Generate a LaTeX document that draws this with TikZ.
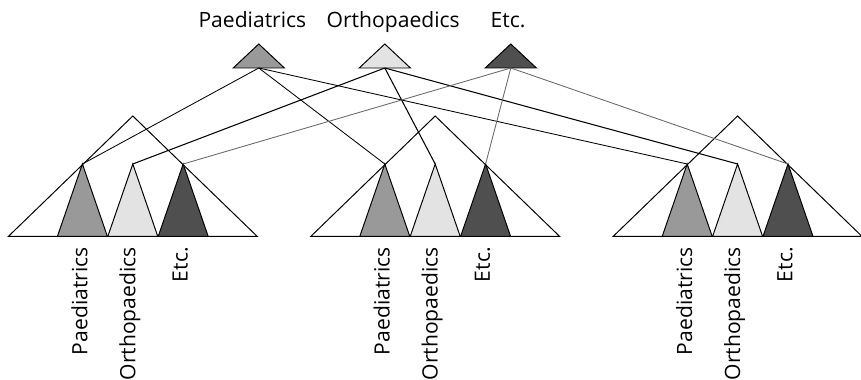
\documentclass[tikz,border=0pt]{standalone}
\usepackage{fontspec}
\setmainfont{Open Sans}
\usetikzlibrary{positioning}

\definecolor{paedfill}{gray}{0.6}
\definecolor{orthofill}{gray}{0.89}
\definecolor{etcfill}{gray}{0.31}
\definecolor{etcdraw}{gray}{0.4}

\begin{document}
\begin{tikzpicture}[
  font=\fontsize{15}{18}\selectfont,
  % Triangle styles
  bigtri/.style={draw, line width=0.7pt, fill=white},
  subtri/.style={draw, line width=0.7pt},
  toptri/.style={draw, line width=0.7pt},
  % Label styles
  toplabel/.style={anchor=base, inner sep=0pt},
  sidelabel/.style={anchor=east, rotate=90, inner sep=0pt},
  % Connector styles
  paedline/.style={draw, line width=0.6pt},
  ortholine/.style={draw, line width=0.75pt},
  etcline/.style={draw, line width=0.6pt, draw=etcdraw}
]
  \useasboundingbox (0,0) rectangle (21.525,9.5);

  % ==========================================
  % TOP: SPECIALTY TRIANGLES
  % ==========================================
  \node[toplabel] (lbl_paed) at (6.31,8.8) {Paediatrics};
  \node[toplabel] (lbl_ortho) at (9.83,8.8) {Orthopaedics};
  \node[toplabel] (lbl_etc) at (12.7,8.8) {Etc.};

  \coordinate (tp) at (6.47,8.4);
  \coordinate (to) at (9.62,8.4);
  \coordinate (te) at (12.77,8.4);
  \coordinate (tp_b) at (6.47,7.8);
  \coordinate (to_b) at (9.62,7.8);
  \coordinate (te_b) at (12.77,7.8);

  \draw[toptri, fill=paedfill] (tp) -- ++(-0.64,-0.6) -- ++(1.28,0) -- cycle;
  \draw[toptri, fill=orthofill] (to) -- ++(-0.64,-0.6) -- ++(1.28,0) -- cycle;
  \draw[toptri, fill=etcfill] (te) -- ++(-0.64,-0.6) -- ++(1.28,0) -- cycle;

  % ==========================================
  % BOTTOM: THREE HIERARCHIES
  % ==========================================
  \coordinate (b1) at (3.32,6.6);
  \coordinate (b2) at (10.88,6.6);
  \coordinate (b3) at (18.44,6.6);

  \coordinate (b1p) at (2.06,5.4);
  \coordinate (b1o) at (3.32,5.4);
  \coordinate (b1e) at (4.58,5.4);
  \coordinate (b2p) at (9.62,5.4);
  \coordinate (b2o) at (10.88,5.4);
  \coordinate (b2e) at (12.14,5.4);
  \coordinate (b3p) at (17.18,5.4);
  \coordinate (b3o) at (18.44,5.4);
  \coordinate (b3e) at (19.70,5.4);

  % Hierarchy 1
  \draw[bigtri] (b1) -- ++(-3.11,-3.01) -- ++(6.22,0) -- cycle;
  \draw[subtri, fill=paedfill] (b1p) -- ++(-0.625,-1.81) -- ++(1.25,0) -- cycle;
  \draw[subtri, fill=orthofill] (b1o) -- ++(-0.625,-1.81) -- ++(1.25,0) -- cycle;
  \draw[subtri, fill=etcfill] (b1e) -- ++(-0.625,-1.81) -- ++(1.25,0) -- cycle;

  % Hierarchy 2
  \draw[bigtri] (b2) -- ++(-3.11,-3.01) -- ++(6.22,0) -- cycle;
  \draw[subtri, fill=paedfill] (b2p) -- ++(-0.625,-1.81) -- ++(1.25,0) -- cycle;
  \draw[subtri, fill=orthofill] (b2o) -- ++(-0.625,-1.81) -- ++(1.25,0) -- cycle;
  \draw[subtri, fill=etcfill] (b2e) -- ++(-0.625,-1.81) -- ++(1.25,0) -- cycle;

  % Hierarchy 3
  \draw[bigtri] (b3) -- ++(-3.11,-3.01) -- ++(6.22,0) -- cycle;
  \draw[subtri, fill=paedfill] (b3p) -- ++(-0.625,-1.81) -- ++(1.25,0) -- cycle;
  \draw[subtri, fill=orthofill] (b3o) -- ++(-0.625,-1.81) -- ++(1.25,0) -- cycle;
  \draw[subtri, fill=etcfill] (b3e) -- ++(-0.625,-1.81) -- ++(1.25,0) -- cycle;

  % Rotated labels under each hierarchy
  \node[sidelabel] (p1) at (1.985,3.325) {Paediatrics};
  \node[sidelabel] (o1) at (3.245,3.325) {Orthopaedics};
  \node[sidelabel] (e1) at (4.505,3.325) {Etc.};
  \node[sidelabel] (p2) at (9.545,3.325) {Paediatrics};
  \node[sidelabel] (o2) at (10.805,3.325) {Orthopaedics};
  \node[sidelabel] (e2) at (12.065,3.325) {Etc.};
  \node[sidelabel] (p3) at (17.105,3.325) {Paediatrics};
  \node[sidelabel] (o3) at (18.365,3.325) {Orthopaedics};
  \node[sidelabel] (e3) at (19.625,3.325) {Etc.};

  % ==========================================
  % CONNECTORS
  % ==========================================
  \draw[paedline] (tp_b) -- (b1p);
  \draw[paedline] (tp_b) -- (b2p);
  \draw[paedline] (tp_b) -- (b3p);

  \draw[ortholine] (to_b) -- (b1o);
  \draw[ortholine] (to_b) -- (b2o);
  \draw[ortholine] (to_b) -- (b3o);

  \draw[etcline] (te_b) -- (b1e);
  \draw[etcline] (te_b) -- (b2e);
  \draw[etcline] (te_b) -- (b3e);

\end{tikzpicture}
\end{document}
